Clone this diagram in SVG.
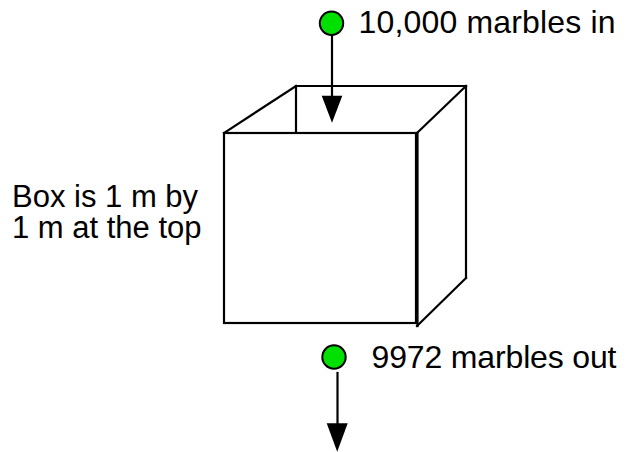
<svg xmlns="http://www.w3.org/2000/svg" width="629" height="452" viewBox="0 0 629 452">
<style>
.ln{stroke:#000;stroke-width:2.2;fill:none;stroke-linecap:square}
.dot{fill:#00e000;stroke:#000;stroke-width:2}
.t{font-family:"Liberation Sans",Arial,sans-serif;font-size:31px;fill:#000}
.r{font-size:32px}
.ah{fill:#000}
</style>
<rect width="629" height="452" fill="#fff"/>
<g id="box">
<line class="ln" x1="296" y1="86" x2="466" y2="86"/>
<line class="ln" x1="296" y1="86" x2="296" y2="131"/>
<line class="ln" x1="296" y1="86" x2="224" y2="133"/>
<line class="ln" x1="466" y1="86" x2="417" y2="133"/>
<line class="ln" x1="466" y1="86" x2="466" y2="278"/>
<line class="ln" x1="466" y1="278" x2="417" y2="326"/>
<rect class="ln" x="224" y="133" width="192" height="190"/>
<line class="ln" x1="417.5" y1="133" x2="417.5" y2="326"/>
</g>
<g id="in">
<circle class="dot" cx="331.5" cy="23.3" r="11.7"/>
<text class="t r" x="358.5" y="33.3" textLength="257" lengthAdjust="spacing">10,000 marbles in</text>
</g>
<g id="out">
<circle class="dot" cx="334" cy="357" r="11.7"/>
<text class="t r" x="371.5" y="368.3" textLength="245" lengthAdjust="spacing">9972 marbles out</text>
</g>
<g id="label">
<text class="t" x="12" y="206.7">Box is 1 m by</text>
<text class="t" x="12" y="238.3">1 m at the top</text>
</g>
<g id="connectors">
<line class="ln" x1="332" y1="36" x2="332" y2="97" stroke-linecap="butt"/>
<polygon class="ah" points="321.7,95.7 342.3,95.7 332,122.7"/>
<line class="ln" x1="337.5" y1="373" x2="337.5" y2="424" stroke-linecap="butt"/>
<polygon class="ah" points="326.7,423.3 347.7,423.3 337.2,451.7"/>
</g>
</svg>
